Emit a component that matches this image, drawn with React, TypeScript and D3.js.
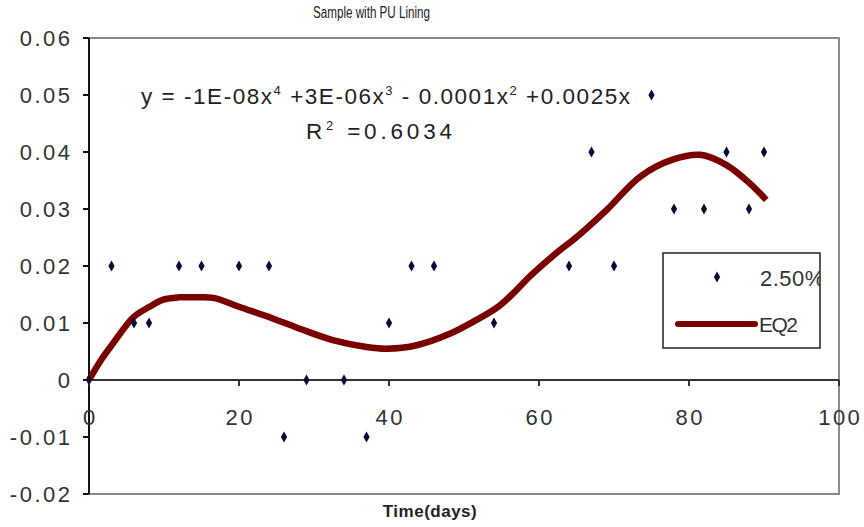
import React from "react";
import * as d3 from "d3";

const days = [0, 3, 6, 8, 12, 15, 20, 24, 26, 29, 34, 37, 40, 43, 46, 54, 64, 67, 70, 75, 78, 82, 85, 88, 90];
const values = [0, 0.02, 0.01, 0.01, 0.02, 0.02, 0.02, 0.02, -0.01, 0, 0, -0.01, 0.01, 0.02, 0.02, 0.01, 0.02, 0.04, 0.02, 0.05, 0.03, 0.03, 0.04, 0.03, 0.04];

// trend line
const trendX = [0, 1.5, 3.2, 5.9, 8, 9.9, 12, 14, 16.6, 20.1, 24.5, 28.1, 32.5, 37, 39.7, 43.7, 48.1, 51.2, 54.8, 59.2, 62.8, 64.5, 69, 73.5, 77.9, 81.5, 85, 88.1, 90.3];
const trendY = [0, 0.0033, 0.0064, 0.011, 0.0128, 0.0141, 0.0145, 0.0145, 0.0144, 0.0128, 0.0108, 0.009, 0.007, 0.0058, 0.0055, 0.0061, 0.0081, 0.0102, 0.0131, 0.0187, 0.0228, 0.0245, 0.0298, 0.0357, 0.0387, 0.0395, 0.0377, 0.0345, 0.0316];

const xTicks = [0, 20, 40, 60, 80, 100];
const yTicks = [-0.02, -0.01, 0, 0.01, 0.02, 0.03, 0.04, 0.05, 0.06];
const yTickLabels = ["-0.02", "-0.01", "0", "0.01", "0.02", "0.03", "0.04", "0.05", "0.06"];

const W = 864;
const H = 527;
const FONT = "'Liberation Sans', Arial, sans-serif";

export default function App() {
  const x = d3.scaleLinear().domain([0, 100]).range([89, 839]);
  const y = d3.scaleLinear().domain([-0.02, 0.06]).range([494, 38]);
  const line = d3
    .line<number>()
    .x((d, i) => x(trendX[i]))
    .y((d) => y(d))
    .curve(d3.curveCatmullRom);
  const diamond = d3.symbol().type(d3.symbolDiamond).size(34)() as string;
  const [x0, x1] = x.range();
  const [yb, yt] = y.range();
  const LS = 2.5;

  return (
    <svg
      width={W}
      height={H}
      style={{ position: "absolute", left: 0, top: 0, background: "#fff" }}
      fontFamily={FONT}
    >
      <rect x={0} y={0} width={W} height={H} fill="#fff" />
      <text x={313} y={18} fontSize={16} fill="#222" textLength={117} lengthAdjust="spacingAndGlyphs">
        Sample with PU Lining
      </text>
      {/* plot frame */}
      <rect x={x0} y={yt} width={x1 - x0} height={yb - yt} fill="none" stroke="#8a8a8a" strokeWidth={2} />
      <line x1={x0} x2={x0} y1={yt} y2={yb} stroke="#111" strokeWidth={2} />
      {/* y ticks */}
      {yTicks.map((t, i) => (
        <g key={"y" + t}>
          <line x1={x0 - 6} x2={x0} y1={y(t)} y2={y(t)} stroke="#111" strokeWidth={2} />
          <text x={70 + LS} y={y(t) + 8} fontSize={22} textAnchor="end" fill="#333" letterSpacing={LS}>
            {yTickLabels[i]}
          </text>
        </g>
      ))}
      {/* x axis */}
      <line x1={x0} x2={x1} y1={y(0)} y2={y(0)} stroke="#333" strokeWidth={2} />
      {xTicks.map((t) => (
        <g key={"x" + t}>
          <line x1={x(t)} x2={x(t)} y1={y(0)} y2={y(0) + 6} stroke="#333" strokeWidth={2} />
          <text x={x(t) + LS / 2} y={y(0) + 45} fontSize={22} textAnchor="middle" fill="#333" letterSpacing={LS}>
            {t}
          </text>
        </g>
      ))}
      {/* trend */}
      <path d={line(trendY) as string} fill="none" stroke="#7a0000" strokeWidth={6.5} strokeLinejoin="round" />
      {/* points */}
      {days.map((d, i) => (
        <path key={"p" + i} d={diamond} transform={`translate(${x(d)},${y(values[i])})`} fill="#0b0b3a" />
      ))}
      {/* equation */}
      <text x={141} y={104} fontSize={22.5} fill="#222" textLength={489} lengthAdjust="spacing">
        y = -1E-08x<tspan dy={-9} fontSize={13}>4</tspan>
        <tspan dy={9}> +3E-06x</tspan>
        <tspan dy={-9} fontSize={13}>3</tspan>
        <tspan dy={9}> - 0.0001x</tspan>
        <tspan dy={-9} fontSize={13}>2</tspan>
        <tspan dy={9}> +0.0025x</tspan>
      </text>
      <text x={306} y={139} fontSize={22.5} fill="#222" textLength={146} lengthAdjust="spacing">
        R<tspan dy={-9} fontSize={13}>2</tspan>
        <tspan dy={9}> =0.6034</tspan>
      </text>
      {/* legend */}
      <defs>
        <clipPath id="legclip">
          <rect x={663} y={253} width={157} height={95} />
        </clipPath>
      </defs>
      <rect x={663} y={253} width={157} height={95} fill="#fff" stroke="#222" strokeWidth={1.5} />
      <g clipPath="url(#legclip)">
        <path d={diamond} transform="translate(717,277)" fill="#0b0b3a" />
        <text x={760} y={286} fontSize={22} fill="#333" letterSpacing={0.5}>2.50%</text>
        <line x1={678} x2={755} y1={324} y2={324} stroke="#7a0000" strokeWidth={6} strokeLinecap="round" />
        <text x={759} y={332} fontSize={21} fill="#333" letterSpacing={-1.5}>EQ2</text>
      </g>
      <text x={430} y={517} fontSize={17} fontWeight="bold" textAnchor="middle" fill="#222" letterSpacing={0.5}>
        Time(days)
      </text>
    </svg>
  );
}
